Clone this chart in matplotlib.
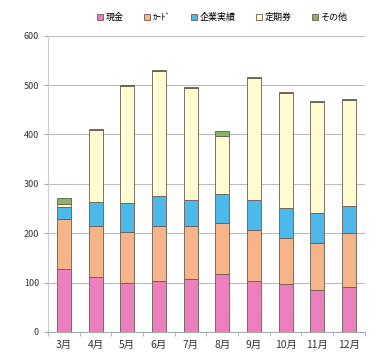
import numpy as np
import matplotlib
matplotlib.use("Agg")
import matplotlib.pyplot as plt

plt.rcParams['font.family'] = ['Noto Sans CJK JP', 'DejaVu Sans']

# data
months = ["3月", "4月", "5月", "6月", "7月", "8月", "9月", "10月", "11月", "12月"]
series = ["現金", "ｶｰﾄﾞ", "企業実績", "定期券", "その他"]
cash = [127, 112, 100, 104, 107, 117, 103, 97, 85, 91]
card = [101, 103, 103, 111, 108, 104, 104, 94, 95, 110]
corp = [26, 48, 59, 61, 53, 59, 61, 61, 61, 55]
teiki = [6, 147, 237, 253, 227, 117, 247, 233, 224, 214]
other = [11, 2, 2, 2, 2, 10, 2, 2, 2, 2]
colors = ["#EC7FBE", "#F6B48A", "#4DB9EA", "#FFFCD2", "#86B56A"]

fig = plt.figure(figsize=(3.76, 3.58), dpi=100)
ax = fig.add_axes([0.128, 0.073, 0.842, 0.827])

x = np.arange(len(months))
bottom = np.zeros(len(months))
for name, vals, c in zip(series, [cash, card, corp, teiki, other], colors):
    ax.bar(x, vals, 0.44, bottom=bottom, color=c, edgecolor="#6b5a50",
           linewidth=0.6, label=name, zorder=3)
    bottom += np.array(vals)

ax.set_ylim(0, 600)
ax.set_yticks(range(0, 601, 100))
ax.set_xlim(-0.5, len(months) - 0.5)
ax.set_xticks(x)
ax.set_xticklabels(months)
ax.set_xticks(np.arange(-0.5, len(months), 1), minor=True)
ax.tick_params(axis="x", which="major", length=0, labelsize=7.5, pad=6, colors="#333333")
ax.tick_params(axis="x", which="minor", length=3, color="#aaaaaa")
ax.tick_params(axis="y", length=3, labelsize=6.5, colors="#333333", color="#aaaaaa")
ax.grid(axis="y", color="#bbbbbb", linewidth=0.8, zorder=0)
for s in ["top", "right"]:
    ax.spines[s].set_visible(False)
ax.spines["left"].set_color("#cccccc")
ax.spines["bottom"].set_color("#aaaaaa")

ax.legend(loc="lower center", bbox_to_anchor=(0.55, 1.035), ncol=5, frameon=False,
          fontsize=6.5, handlelength=0.7, handleheight=0.7, handletextpad=0.3,
          columnspacing=2.2, borderaxespad=0)

fig.savefig("out.png", dpi=100)
